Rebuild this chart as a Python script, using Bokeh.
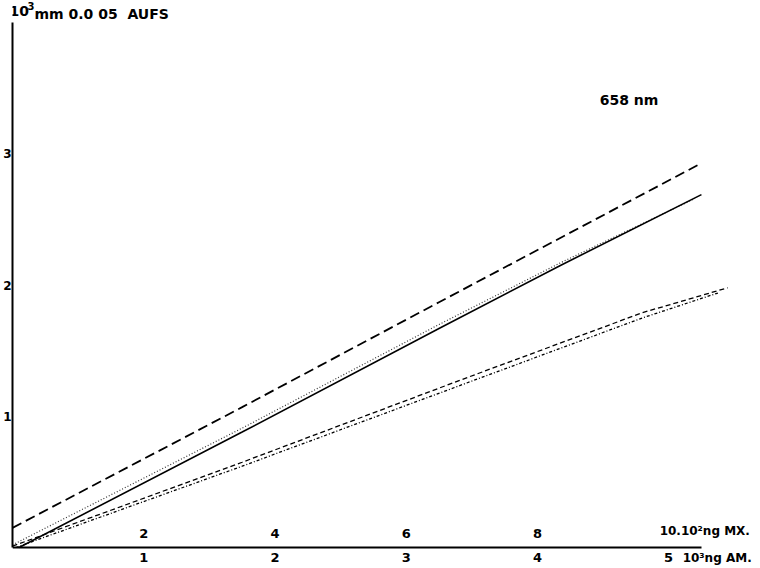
from bokeh.plotting import figure
from bokeh.models import Range1d, FixedTicker
from bokeh.core.properties import value
from bokeh.embed import file_html
from bokeh.resources import INLINE

# ---- data (x: 10^2 ng MX, y: 10^3 mm) ----
mx_ticks = [2, 4, 6, 8, 10]
mx_labels = ["2", "4", "6", "8"]
mx_last_label = "10.10²ng MX."
am_labels = ["1", "2", "3", "4", "5"]
am_unit = "10³ng AM."
y_ticks = [1, 2, 3]
y_labels = ["1", "2", "3"]
title_main = "10"
title_sup = "3"
title_rest = "mm 0.0 05\u00a0\u00a0AUFS"
wavelength = "658 nm"

dash_long_x = [0.0, 3.5, 6.5, 10.5]
dash_long_y = [0.15, 1.07, 1.87, 2.93]
solid_x = [0.1, 3.5, 6.5, 8.35, 10.5]
solid_y = [0.0, 0.88, 1.67, 2.15, 2.69]
dotted_x = [0.0, 3.5, 6.5, 8.35, 10.4]
dotted_y = [0.02, 0.91, 1.70, 2.17, 2.66]
short_a_x = [0.0, 3.5, 6.9, 9.6, 10.9]
short_a_y = [0.01, 0.65, 1.29, 1.79, 1.98]
short_b_x = [0.05, 3.5, 6.9, 9.6, 10.75]
short_b_y = [0.0, 0.62, 1.25, 1.75, 1.94]

FNAME = "DejaVu Sans"
FONT = value(FNAME)
Y_TOP = 4.17

p = figure(width=760, height=568, output_backend="svg", toolbar_location=None,
           x_range=Range1d(0, 11.4), y_range=Range1d(-0.16, Y_TOP),
           min_border_left=0, min_border_right=0, min_border_top=0, min_border_bottom=0)
p.grid.visible = False
p.outline_line_color = None
p.background_fill_color = "white"

# axes
p.xaxis.fixed_location = 0
p.xaxis.ticker = FixedTicker(ticks=mx_ticks, minor_ticks=[])
p.xaxis.major_label_overrides = {t: l for t, l in zip(mx_ticks, am_labels)}
p.xaxis.bounds = (0, 10.5)
p.yaxis.ticker = FixedTicker(ticks=y_ticks, minor_ticks=[])
p.yaxis.major_label_overrides = {t: l for t, l in zip(y_ticks, y_labels)}
p.yaxis.bounds = (0, 4.0)
for ax in (p.xaxis, p.yaxis):
    ax.axis_line_width = 2
    ax.axis_line_color = "black"
    ax.major_tick_in = 0
    ax.major_tick_out = 0
    ax.minor_tick_in = 0
    ax.minor_tick_out = 0
    ax.major_label_text_font = FNAME
    ax.major_label_text_font_style = "bold"
    ax.major_label_text_font_size = "13px"
    ax.major_label_text_color = "black"
p.xaxis.major_label_standoff = 5
p.yaxis.major_label_standoff = 1
p.yaxis.major_label_text_font_size = "12px"
p.yaxis.major_label_text_baseline = "bottom"

# lines
p.line(dash_long_x, dash_long_y, line_color="black", line_width=1.8, line_dash="10 5")
p.line(dotted_x, dotted_y, line_color="#333333", line_width=1.2, line_dash="1 2")
p.line(solid_x, solid_y, line_color="black", line_width=1.6)
p.line(short_a_x, short_a_y, line_color="black", line_width=1.3, line_dash="5 3")
p.line(short_b_x, short_b_y, line_color="black", line_width=1.3, line_dash="3 2 1 2")

# upper row of x labels (ng MX)
p.text(x=mx_ticks[:4], y=[0] * 4, text=mx_labels, text_align="center", text_baseline="bottom",
       y_offset=-10, text_font=FONT, text_font_style="bold", text_font_size="13px", text_color="black")
p.text(x=[mx_ticks[4]], y=[0], text=[mx_last_label], text_align="left", text_baseline="bottom",
       x_offset=-9, y_offset=-10, text_font=FONT, text_font_style="bold", text_font_size="12px",
       text_color="black")
# lower unit (ng AM)
p.text(x=[mx_ticks[4]], y=[0], text=[am_unit], text_align="left", text_baseline="top",
       x_offset=14, y_offset=3, text_font=FONT, text_font_style="bold", text_font_size="12px",
       text_color="black")
p.text(x=[8.95], y=[3.41], text=[wavelength], text_align="left", text_baseline="middle",
       text_font=FONT, text_font_style="bold", text_font_size="14px", text_color="black")

# title: 10^3 mm 0.0 05 AUFS
p.text(x=[0], y=[Y_TOP], text=[title_main], x_offset=-3, y_offset=5, text_baseline="top",
       text_align="left", text_font=FONT, text_font_style="bold", text_font_size="14px",
       text_color="black")
p.text(x=[0], y=[Y_TOP], text=[title_sup], x_offset=15, y_offset=1, text_baseline="top",
       text_align="left", text_font=FONT, text_font_style="bold", text_font_size="10px",
       text_color="black")
p.text(x=[0], y=[Y_TOP], text=[title_rest], x_offset=22, y_offset=5, text_baseline="top",
       text_align="left", text_font=FONT, text_font_style="bold", text_font_size="14px",
       text_color="black")

open("out.html", "w").write(file_html(p, INLINE))
